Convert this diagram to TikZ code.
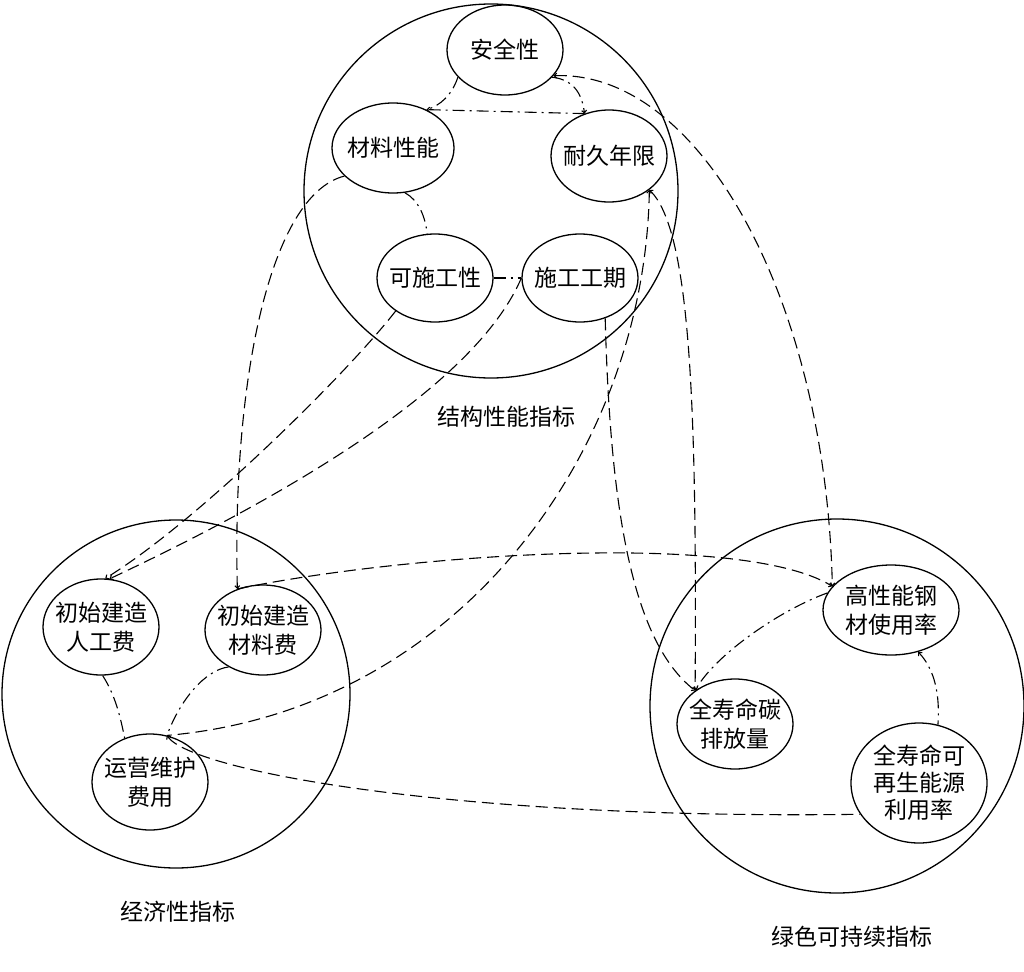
\documentclass[tikz,border=0pt]{standalone}
\usepackage{fontspec}
\setmainfont{Noto Sans CJK SC}
\usetikzlibrary{shapes.geometric,arrows.meta}
\begin{document}
\begin{tikzpicture}[x=1pt,y=-1pt,
  ell/.style={ellipse,draw,line width=1.3pt,inner sep=0pt},
  big/.style={circle,draw,line width=1.3pt,inner sep=0pt},
  txt/.style={align=center,inner sep=0pt,font=\fontsize{23}{29}\selectfont},
  lbl/.style={inner sep=0pt,font=\fontsize{23}{28}\selectfont},
  dsh/.style={line width=1.1pt,dash pattern=on 12pt off 6pt},
  dd/.style={line width=1.1pt,dash pattern=on 12pt off 5pt on 2pt off 5pt},
  tipE/.style={-{Straight Barb[length=2.5pt,width=5pt]}},
  tipS/.style={{Straight Barb[length=2.5pt,width=5pt]}-},
  tipB/.style={{Straight Barb[length=2.5pt,width=5pt]}-{Straight Barb[length=2.5pt,width=5pt]}},
]
\useasboundingbox (0,0) rectangle (1024,971);

% big circles
\node[big,minimum size=374pt] (T) at (491,191) {};
\node[big,minimum size=348pt] (LC) at (176,694) {};
\node[big,minimum size=374pt] (RC) at (837,706) {};

% group labels
\node[lbl] (Tl) at (506,417) {结构性能指标};
\node[lbl] (Ll) at (178,912) {经济性指标};
\node[lbl] (Rl) at (852,937) {绿色可持续指标};

% ellipses
\node[ell,minimum width=116pt,minimum height=90pt] (S) at (505,50) {};
\node[ell,minimum width=122pt,minimum height=90pt] (M) at (393,148) {};
\node[ell,minimum width=116pt,minimum height=92pt] (D) at (609,156) {};
\node[ell,minimum width=116pt,minimum height=88pt] (C) at (435,278) {};
\node[ell,minimum width=116pt,minimum height=88pt] (P) at (580,278) {};
\node[ell,minimum width=116pt,minimum height=96pt] (L) at (101,627) {};
\node[ell,minimum width=116pt,minimum height=90pt] (F) at (263,630) {};
\node[ell,minimum width=116pt,minimum height=96pt] (O) at (150,782) {};
\node[ell,minimum width=136pt,minimum height=90pt] (H) at (891,610) {};
\node[ell,minimum width=116pt,minimum height=90pt] (E) at (735,724) {};
\node[ell,minimum width=136pt,minimum height=120pt] (R) at (919,783) {};

% texts
\node[txt] (St) at (S) {安全性};
\node[txt] (Mt) at (M) {材料性能};
\node[txt] (Dt) at (D) {耐久年限};
\node[txt] (Ct) at (C) {可施工性};
\node[txt] (Pt) at (P) {施工工期};
\node[txt] (Lt) at (L) {初始建造\\人工费};
\node[txt] (Ft) at (F) {初始建造\\材料费};
\node[txt] (Ot) at (O) {运营维护\\费用};
\node[txt] (Ht) at (H) {高性能钢\\材使用率};
\node[txt] (Et) at (E) {全寿命碳\\排放量};
\node[txt,font=\fontsize{23}{27}\selectfont] (Rt) at (R) {全寿命可\\再生能源\\利用率};

% dash-dot connectors
\draw[dd] (S.-150) .. controls (452,95) and (440,106) .. (M.49);
\draw[dd,tipE] (D.120) -- (M.49);
\draw[dd,tipE] (S.-30) .. controls (575,80) and (582,95) .. (D.120);
\draw[dd] (M.-75) .. controls (418,200) and (425,215) .. (C.100);
\draw[dd] (C.0) -- (P.180);
\draw[dd,tipE] (H.165) .. controls (780,610) and (715,655) .. (E.140);
\draw[dd,tipS] (H.-57) .. controls (935,670) and (940,695) .. (R.72);
\draw[dd] (L.-88) .. controls (115,695) and (120,715) .. (O.120);
\draw[dd] (F.-133) .. controls (205,670) and (180,700) .. (O.70);

% dashed connectors
\draw[dsh,tipB] (S.-28) .. controls (700,70) and (826,300) .. (H.158);
\draw[dsh,tipE] (M.-150) .. controls (270,195) and (232,380) .. (F.122);
\draw[dsh,tipE] (C.-140) .. controls (350,370) and (200,520) .. (L.85);
\draw[dsh,tipE] (P.180) .. controls (480,375) and (320,480) .. (L.80);
\draw[dsh,tipE] (F.122) .. controls (400,555) and (740,530) .. (H.158);
\draw[dsh,tipS] (D.-40) .. controls (645,450) and (460,710) .. (O.70);
\draw[dsh,tipB] (D.-40) .. controls (690,230) and (697,400) .. (E.140);
\draw[dsh,tipE] (P.-58) .. controls (610,500) and (630,640) .. (E.140);
\draw[dsh,tipS] (O.70) .. controls (190,770) and (450,820) .. (R.-152);
\end{tikzpicture}
\end{document}
